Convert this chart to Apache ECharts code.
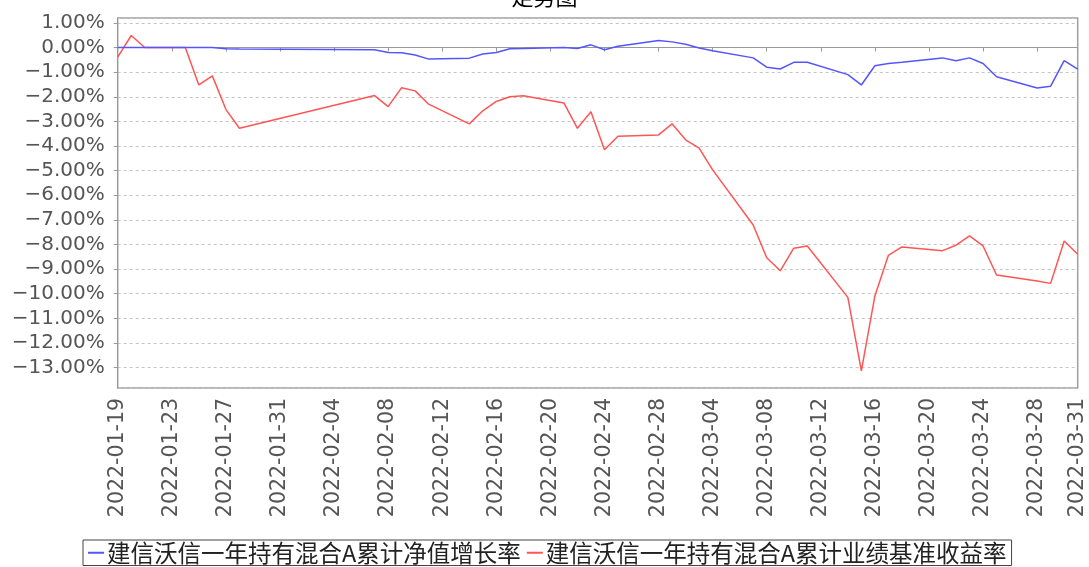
<!DOCTYPE html>
<html><head><meta charset="utf-8">
<script src="https://cdn.jsdelivr.net/npm/echarts@6/dist/echarts.min.js"></script>
<style>html,body{margin:0;padding:0;background:#fff}#c{width:1089px;height:567px}</style>
</head><body><div id="c"></div>
<script>
const titleText = '走势图';
const seriesNames = ['建信沃信一年持有混合A累计净值增长率', '建信沃信一年持有混合A累计业绩基准收益率'];
const dates = ['2022-01-19','2022-01-20','2022-01-21','2022-01-24','2022-01-25','2022-01-26','2022-01-27','2022-01-28',
  '2022-02-07','2022-02-08','2022-02-09','2022-02-10','2022-02-11','2022-02-14','2022-02-15','2022-02-16','2022-02-17','2022-02-18',
  '2022-02-21','2022-02-22','2022-02-23','2022-02-24','2022-02-25','2022-02-28','2022-03-01','2022-03-02','2022-03-03','2022-03-04',
  '2022-03-07','2022-03-08','2022-03-09','2022-03-10','2022-03-11','2022-03-14','2022-03-15','2022-03-16','2022-03-17','2022-03-18',
  '2022-03-21','2022-03-22','2022-03-23','2022-03-24','2022-03-25','2022-03-28','2022-03-29','2022-03-30','2022-03-31'];
const navGrowth = [0,0,0,0,0,0,-0.05,-0.06,
  -0.09,-0.20,-0.21,-0.30,-0.47,-0.43,-0.26,-0.20,-0.05,-0.04,
  0.00,-0.04,0.11,-0.09,0.05,0.29,0.23,0.13,-0.02,-0.13,
  -0.42,-0.80,-0.87,-0.60,-0.60,-1.10,-1.52,-0.74,-0.65,-0.60,
  -0.42,-0.54,-0.42,-0.65,-1.19,-1.64,-1.57,-0.53,-0.88];
const benchmark = [-0.39,0.49,0.00,0.00,-1.52,-1.15,-2.51,-3.28,
  -1.95,-2.40,-1.63,-1.76,-2.30,-3.10,-2.57,-2.19,-2.00,-1.96,
  -2.25,-3.28,-2.61,-4.15,-3.60,-3.55,-3.10,-3.75,-4.09,-4.97,
  -7.21,-8.54,-9.07,-8.15,-8.06,-10.15,-13.13,-10.09,-8.44,-8.10,
  -8.25,-8.03,-7.65,-8.06,-9.24,-9.48,-9.58,-7.86,-8.40];
const xStart = '2022-01-19';
const xEnd = '2022-03-31';
const xTickDays = 4;
const yMin = -13.83;
const yMax = 1.2;

const DAY = 86400000;
const t0 = Date.parse(xStart + 'T00:00:00Z');
const dayIndex = d => Math.round((Date.parse(d + 'T00:00:00Z') - t0) / DAY);
const dayLabel = n => new Date(t0 + n * DAY).toISOString().slice(0, 10);
const pairs = arr => dates.map((d, i) => [dayIndex(d), arr[i]]);

const gray = '#555';
const chart = echarts.init(document.getElementById('c'), null, {renderer: 'canvas'});
chart.setOption({
  animation: false,
  backgroundColor: '#fff',
  title: {
    text: titleText, left: 'center', top: -19,
    textStyle: {fontSize: 22, fontWeight: 'normal', color: '#000', fontFamily: 'Noto Sans CJK SC'}
  },
  grid: {left: 117.7, right: 11.3, top: 18, bottom: 179, show: true, borderColor: '#a0a0a0', borderWidth: 1.5, backgroundColor: '#fff'},
  legend: {
    left: 83, top: 540,
    padding: [1, 5, 1, 5],
    borderColor: '#444', borderWidth: 1,
    itemWidth: 16, itemHeight: 2, itemGap: 6,
    icon: 'rect',
    textStyle: {fontSize: 23.5, color: '#222', fontFamily: 'Noto Sans CJK SC', padding: [0, 0, 0, -2]},
    data: seriesNames
  },
  xAxis: {
    type: 'value', min: 0, max: dayIndex(xEnd), interval: xTickDays,
    offset: 4,
    axisLine: {show: true, lineStyle: {color: '#999', width: 1}},
    axisTick: {show: true, length: 4, lineStyle: {color: '#999'}},
    splitLine: {show: false},
    axisLabel: {rotate: 90, margin: 6, fontSize: 20.5, color: gray, fontFamily: 'DejaVu Sans', formatter: v => dayLabel(v), showMaxLabel: true}
  },
  yAxis: {
    type: 'value', min: yMin, max: yMax, splitNumber: 15,
    offset: 5,
    axisLine: {show: true, lineStyle: {color: '#999', width: 1}},
    axisTick: {show: true, length: 4, lineStyle: {color: '#999'}},
    splitLine: {show: true, lineStyle: {color: '#c4c4c4', type: [3, 3], width: 1}},
    axisLabel: {
      showMinLabel: false, showMaxLabel: false, margin: 8, fontSize: 20, color: gray, fontFamily: 'DejaVu Sans',
      formatter: v => Math.abs(v - Math.round(v)) > 1e-6 ? '' : (v < 0 ? '\u2212' : '') + Math.abs(v).toFixed(2) + '%'
    }
  },
  series: [
    {name: seriesNames[0], type: 'line', data: pairs(navGrowth), showSymbol: false, symbol: 'none',
     lineStyle: {color: '#5555ff', width: 1.5}, itemStyle: {color: '#5555ff'}, z: 3},
    {name: seriesNames[1], type: 'line', data: pairs(benchmark), showSymbol: false, symbol: 'none',
     lineStyle: {color: '#ff5555', width: 1.5}, itemStyle: {color: '#ff5555'}, z: 2}
  ]
});
</script></body></html>
